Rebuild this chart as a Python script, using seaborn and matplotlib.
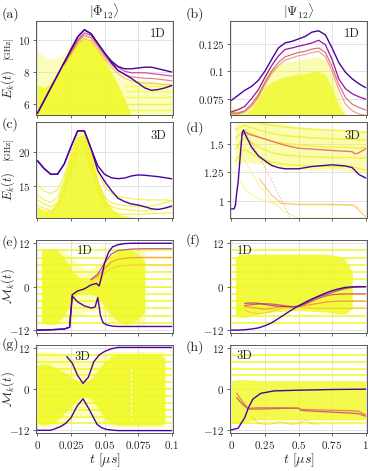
import matplotlib
matplotlib.use("Agg")
import matplotlib.pyplot as plt
import seaborn as sns

# ---------------------------------------------------------------- data
# time grids
T_L = [0, 0.005, 0.01, 0.015, 0.02, 0.025, 0.03, 0.035, 0.04, 0.045, 0.05,
       0.055, 0.06, 0.065, 0.07, 0.075, 0.08, 0.085, 0.09, 0.095, 0.1]
T_R = [0, 0.05, 0.1, 0.15, 0.2, 0.25, 0.3, 0.35, 0.4, 0.45, 0.5,
       0.55, 0.6, 0.65, 0.7, 0.75, 0.8, 0.85, 0.9, 0.95, 1.0]

# (a) |Phi12>, 1D, energies [GHz]
A_PURPLE_1 = [5.4, 6.2, 7.0, 7.8, 8.6, 9.4, 10.2, 10.65, 10.4, 9.8, 9.2,
              8.7, 8.35, 8.2, 8.2, 8.25, 8.3, 8.3, 8.2, 8.1, 8.0]
A_PURPLE_2 = [5.4, 6.2, 7.0, 7.8, 8.6, 9.4, 10.2, 10.65, 10.4, 9.8, 9.2,
              8.6, 8.1, 7.85, 7.6, 7.3, 7.0, 6.85, 6.9, 7.0, 7.15]
A_T_MID = T_L[4:]
A_PINK = [8.6, 9.3, 10.0, 10.45, 10.3, 9.75, 9.15, 8.65, 8.3, 8.05, 7.95,
          7.95, 7.95, 7.9, 7.85, 7.8, 7.75]
A_SALMON = [8.5, 9.2, 9.9, 10.3, 10.15, 9.6, 9.0, 8.5, 8.1, 7.85, 7.7,
            7.65, 7.6, 7.6, 7.55, 7.5, 7.45]
A_PEACH = [8.4, 9.1, 9.75, 10.1, 9.95, 9.4, 8.8, 8.3, 7.9, 7.6, 7.45,
           7.35, 7.3, 7.3, 7.25, 7.2, 7.2]
A_FILL_T = T_L[:15]
A_FILL_HI = [7.2, 7.0, 7.3, 7.9, 8.6, 9.3, 9.9, 10.1, 9.9, 9.4, 8.7, 8.0, 7.2, 6.3, 5.3]
A_FAINT_HI = [9.3, 9.0, 8.8, 8.9, 9.2, 9.7, 10.2, 10.4, 10.2, 9.7, 9.1,
              8.5, 8.0, 7.6, 7.5, 7.5, 7.5, 7.45, 7.4, 7.35, 7.3]
A_LEVELS = [5.6, 6.0, 6.4, 6.8, 7.1]

# (b) |Psi12>, 1D
B_PURPLE = [0.0735, 0.078, 0.0826, 0.0861, 0.0915, 0.100, 0.1107, 0.121, 0.1256, 0.127, 0.1292,
            0.1315, 0.1354, 0.1366, 0.133, 0.121, 0.1078, 0.0989, 0.093, 0.0885, 0.085]
B_MAGENTA = [0.063, 0.065, 0.068, 0.075, 0.083, 0.0944, 0.105, 0.1137, 0.1197, 0.121, 0.1226,
             0.124, 0.1256, 0.128, 0.124, 0.1107, 0.093, 0.084, 0.0795, 0.0767, 0.0745]
B_PINK = [0.062, 0.062, 0.064, 0.07, 0.078, 0.09, 0.1, 0.108, 0.113, 0.115, 0.117,
          0.118, 0.12, 0.121, 0.117, 0.104, 0.088, 0.076, 0.07, 0.067, 0.0648]
B_SALMON = [0.061, 0.061, 0.063, 0.068, 0.076, 0.088, 0.098, 0.105, 0.11, 0.112, 0.114,
            0.115, 0.117, 0.118, 0.113, 0.1, 0.083, 0.07, 0.064, 0.061, 0.06]
B_FAINT_HI = [0.068, 0.066, 0.064, 0.072, 0.085, 0.098, 0.103, 0.106, 0.108, 0.109, 0.11,
              0.111, 0.112, 0.113, 0.11, 0.097, 0.078, 0.062, 0.06, 0.06, 0.06]
B_DENSE_HI = [0.064, 0.062, 0.061, 0.066, 0.075, 0.085, 0.09, 0.093, 0.095, 0.096, 0.097,
              0.098, 0.099, 0.1, 0.097, 0.085, 0.068, 0.06, 0.06, 0.06, 0.06]

# (c) |Phi12>, 3D
C_PURPLE_1 = [18.75, 17.6, 16.75, 16.75, 18.25, 20.75, 23.1, 23.1, 20.5, 18.0, 16.75,
              16.25, 16.1, 16.2, 16.5, 16.65, 16.6, 16.5, 16.4, 16.25, 16.1]
C_PURPLE_2 = [18.75, 17.6, 16.75, 16.75, 18.25, 20.75, 23.1, 23.1, 20.5, 17.3, 15.75,
              14.4, 13.25, 12.75, 12.4, 12.25, 12.0, 11.7, 11.6, 11.8, 12.1]
C_FILL_HI = [12.0, 11.5, 11.5, 13.0, 16.0, 19.5, 22.3, 22.6, 19.8, 16.0, 13.3,
             11.8, 11.0, 10.7, 10.5, 10.4, 10.35, 10.35, 10.35, 10.35, 10.35]
C_Y1 = [15.2, 14.3, 13.9, 14.5, 16.5, 19.8, 22.5, 22.8, 20.0, 17.0, 15.0,
        14.0, 13.5, 13.3, 13.2, 13.1, 13.0, 13.0, 13.0, 13.0, 12.9]
C_Y2 = [13.8, 13.0, 12.6, 13.4, 15.8, 19.2, 22.0, 22.3, 19.5, 15.8, 13.4,
        12.6, 12.3, 12.2, 12.1, 12.0, 12.0, 12.1, 12.3, 12.6, 12.8]
C_Y3 = [13.0, 12.4, 12.0, 12.5, 14.8, 18.0, 21.0, 21.5, 18.5, 15.0, 12.8,
        12.0, 11.7, 11.6, 11.5, 11.4, 11.4, 11.5, 11.6, 11.8, 11.9]
C_Y4 = [12.2, 11.8, 11.4, 11.8, 14.0, 17.0, 20.0, 20.5, 17.6, 14.2, 12.2,
        11.3, 11.0, 10.9, 10.9, 10.9, 10.9, 11.0, 11.0, 11.1, 11.1]

# (d) |Psi12>, 3D
D_T = [0, 0.02, 0.03, 0.04, 0.05, 0.06, 0.07, 0.08, 0.09, 0.1, 0.15, 0.2, 0.25,
       0.3, 0.35, 0.4, 0.5, 0.6, 0.7, 0.75, 0.8, 0.85, 0.9, 0.95, 1.0]
D_PURPLE = [0.93, 0.93, 0.96, 1.07, 1.16, 1.30, 1.45, 1.59, 1.62, 1.59, 1.47, 1.395, 1.35,
            1.31, 1.29, 1.28, 1.28, 1.30, 1.31, 1.315, 1.31, 1.305, 1.29, 1.23, 1.20]
D_PINK_T = [0.08, 0.1, 0.15, 0.25, 0.4, 0.5, 0.75, 0.9, 0.92, 0.95, 1.0]
D_PINK = [1.57, 1.6, 1.575, 1.54, 1.485, 1.46, 1.44, 1.43, 1.41, 1.42, 1.455]
D_FALL_T = [0.1, 0.2, 0.3, 0.44]
D_FALL = [1.62, 1.40, 1.18, 0.85]
D_LOW_T = [0.21, 0.3, 0.37, 0.5, 0.7, 0.91, 1.0]
D_LOW = [1.19, 1.05, 0.98, 0.97, 0.97, 0.965, 0.86]
D_YT = [0.03, 0.06, 0.1, 0.2, 0.3, 0.4, 0.5, 0.6, 0.7, 0.8, 0.9, 0.95, 1.0]
D_BAND_HI = [1.69, 1.69, 1.69, 1.69, 1.69, 1.67, 1.65, 1.64, 1.63, 1.62, 1.61, 1.6, 1.62]
D_BAND_LO = [1.3, 1.32, 1.34, 1.33, 1.30, 1.28, 1.27, 1.27, 1.27, 1.27, 1.26, 1.24, 1.25]
D_Y1 = [1.69, 1.69, 1.69, 1.68, 1.66, 1.645, 1.635, 1.625, 1.62, 1.615, 1.61, 1.6, 1.6]
D_Y2 = [1.62, 1.64, 1.66, 1.62, 1.59, 1.57, 1.56, 1.55, 1.545, 1.54, 1.535, 1.53, 1.53]
D_Y3 = [1.55, 1.58, 1.62, 1.56, 1.52, 1.5, 1.49, 1.48, 1.47, 1.47, 1.465, 1.46, 1.47]
D_Y4 = [1.45, 1.5, 1.55, 1.47, 1.42, 1.4, 1.39, 1.385, 1.38, 1.38, 1.38, 1.37, 1.38]
D_Y5 = [1.35, 1.4, 1.45, 1.38, 1.34, 1.32, 1.31, 1.305, 1.3, 1.3, 1.3, 1.28, 1.27]
D_Y6 = [1.25, 1.2, 1.1, 1.02, 0.98, 0.97, 0.965, 0.96, 0.96, 0.96, 0.96, 0.94, 0.9]
D_Y7 = [1.5, 1.45, 1.35, 1.15, 1.0, 0.9, 0.85, 0.85, 0.85, 0.85, 0.85, 0.85, 0.85]

# (e) M_k, |Phi12>, 1D
LEVELS = [10, 8, 6, 4, 2, 0, -2, -4, -6, -8, -10]
E_P1_T = [0, 0.01, 0.02, 0.024, 0.026, 0.03, 0.035, 0.04, 0.044, 0.046, 0.048,
          0.05, 0.053, 0.056, 0.06, 0.065, 0.07, 0.1]
E_P1 = [-12, -11.9, -11.7, -11.2, -2.2, -1.2, -0.6, 0.5, 0.9, 0.2, 3.0,
        6.5, 9.5, 11.0, 11.6, 11.9, 12.0, 12.0]
E_P2_T = [0, 0.01, 0.02, 0.024, 0.026, 0.03, 0.035, 0.04, 0.043, 0.045, 0.047,
          0.049, 0.052, 0.056, 0.06, 0.07, 0.1]
E_P2 = [-12, -11.9, -11.7, -11.2, -2.6, -4.2, -5.3, -5.9, -5.6, -3.0, -8.0,
        -10.0, -10.6, -10.9, -11.0, -11.0, -11.0]
E_HL_T = [0.04, 0.045, 0.05, 0.055, 0.06, 0.07, 0.08, 0.1]
E_PINK = [2.0, 3.5, 6.5, 9.0, 10.0, 10.4, 10.5, 10.5]
E_ORANGE = [2.0, 3.0, 5.0, 6.8, 7.6, 8.0, 8.1, 8.1]
E_LIGHT = [1.5, 2.5, 3.8, 5.0, 5.6, 6.0, 6.0, 6.0]
E_FILL_T = [0.003, 0.01, 0.015, 0.02, 0.025, 0.03, 0.035, 0.04, 0.045, 0.05,
            0.055, 0.06, 0.065, 0.07, 0.075, 0.08]
E_FILL_HI = [10.0, 10.5, 10.0, 8.0, 5.0, 2.8, 1.8, 2.0, 3.5, 6.0, 8.5, 10.0, 10.5, 10.0, 9.0, 7.0]
E_FILL_LO = [-10.0, -10.5, -10.0, -8.0, -4.5, -2.0, -1.5, -1.8, -3.0, -5.5, -8.0, -9.5, -10.5, -10.0, -9.0, -7.0]
E_FAINT_HI = [10.5, 10.5, 10.5, 10.0, 8.5, 6.5, 5.0, 5.0, 6.0, 8.0, 10.0, 10.5, 10.5, 10.5, 10.5, 10.5]
E_FAINT_LO = [-10.5, -10.5, -10.5, -10.0, -9.5, -8.0, -7.0, -7.0, -6.5, -8.0, -10.0, -10.5, -10.5, -10.5, -10.5, -10.5]

# (f) M_k, |Psi12>, 1D
F_PURPLE = [-12, -12, -11.9, -11.7, -11.4, -10.8, -10.0, -8.8, -7.6, -6.4, -5.3,
            -4.3, -3.4, -2.6, -1.8, -1.1, -0.6, -0.2, -0.05, 0, 0]
F_T_MID = T_R[2:]
F_RED = [-5.2, -5.0, -4.8, -4.7, -4.8, -5.0, -5.3, -5.5, -5.4, -4.8, -4.0,
         -3.2, -2.6, -2.2, -2.1, -2.0, -2.0, -2.0, -2.0]
F_ORANGE = [-5.5, -5.8, -6.0, -6.2, -6.0, -5.6, -5.4, -5.5, -5.5, -5.2, -4.9,
            -4.6, -4.3, -4.1, -4.0, -4.0, -4.0, -4.0, -4.0]
F_PEACH = [-6.5, -7.2, -7.5, -7.3, -6.8, -6.2, -5.8, -5.6, -5.5, -5.8, -6.0,
           -6.0, -6.0, -6.0, -6.0, -6.0, -6.0, -6.0, -6.0]
F_PINK = [-4.6, -4.5, -4.6, -4.9, -5.2, -5.4, -5.5, -5.6, -5.5, -4.6, -3.6,
          -2.8, -2.2, -1.6, -1.0, -0.5, -0.2, -0.05, 0.0]
F_FILL_T = [0.03, 0.06, 0.1, 0.2, 0.3, 0.4, 0.5, 0.6, 0.7, 0.8, 0.85, 0.9]
F_FILL_HI = [8.0, 9.0, 9.0, 9.0, 9.0, 9.0, 9.0, 9.0, 9.0, 8.5, 7.5, 4.0]
F_FILL_LO = [-8.0, -8.5, -8.5, -7.5, -7.0, -6.8, -6.5, -6.8, -7.0, -7.5, -7.5, -6.0]

# (g) M_k, |Phi12>, 3D
G_UP_T = [0.022, 0.026, 0.03, 0.034, 0.038, 0.042, 0.046, 0.05, 0.055, 0.06, 0.07, 0.1]
G_UP = [9.5, 7.6, 4.0, 1.7, 3.5, 8.0, 10.0, 11.0, 11.8, 12.2, 12.2, 12.2]
G_LO_T = [0, 0.01, 0.017, 0.021, 0.025, 0.0295, 0.034, 0.038, 0.0445, 0.048, 0.052, 0.06, 0.1]
G_LO = [-12, -12, -11, -10.0, -8.4, -5.0, -2.8, -5.5, -10.3, -11.3, -11.8, -12.1, -12.1]
G_FILL_T = [0.0, 0.005, 0.01, 0.015, 0.02, 0.025, 0.03, 0.035, 0.04, 0.045, 0.05,
            0.055, 0.06, 0.07, 0.08, 0.09, 0.095]
G_FILL_HI = [7.0, 7.5, 7.0, 6.0, 5.0, 3.5, 2.5, 2.0, 3.0, 5.5, 8.0, 9.5, 10.0, 10.3, 10.3, 10.3, 9.0]
G_FILL_LO = [-10.0, -10.5, -10.0, -9.0, -7.0, -5.0, -3.0, -2.2, -3.0, -5.5, -8.5,
             -10.0, -10.5, -10.5, -10.5, -10.5, -10.0]
G_FAINT_HI = [11, 11, 11, 10.5, 10, 9.5, 8, 7, 8, 9.5, 10.5, 11, 11, 11, 11, 11, 11]
G_FAINT_LO = [-11, -11, -11, -11, -10.5, -9.5, -8, -7.5, -8, -9.5, -10.5, -11, -11, -11, -11, -11, -11]

# (h) M_k, |Psi12>, 3D
H_PURPLE_T = [0, 0.05, 0.1, 0.125, 0.16, 0.22, 0.32, 0.5, 0.75, 1.0]
H_PURPLE = [-11.9, -11.4, -8.3, -5.6, -2.9, -1.2, -0.5, -0.3, -0.1, 0.0]
H_HL_T = [0.04, 0.08, 0.125, 0.2, 0.3, 0.4, 0.5, 0.52, 0.6, 0.7, 0.8, 0.9, 0.95, 1.0]
H_ORANGE = [-1.2, -3.5, -5.6, -5.4, -5.4, -5.4, -5.5, -5.9, -6.0, -6.1, -6.2, -6.3, -6.5, -7.5]
H_PINK = [-2.5, -4.3, -5.8, -5.8, -5.7, -5.6, -5.6, -6.2, -6.4, -6.6, -6.8, -7.0, -7.2, -7.9]
H_ARCH_T = [0.15, 0.2, 0.25, 0.3, 0.35, 0.4, 0.45, 0.5, 0.55, 0.6, 0.65]
H_ARCH = [-8, -10, -10.3, -10.2, -9.5, -9.8, -10.3, -10.1, -9.0, -10.1, -10.3]
H_LEVELS = [10, 8, 6, 4, -10]
H_FILL_T = [0, 0.05, 0.1, 0.2, 0.3, 0.5, 0.7, 0.9, 1.0]
H_FILL_HI = [2.5, 2.8, 2.8, 2.6, 2.5, 2.5, 2.5, 2.5, 2.5]
H_FILL_LO = [-10, -10, -9.5, -9.0, -9.0, -9.0, -9.0, -9.0, -9.0]

# ---------------------------------------------------------------- style
sns.set_style("whitegrid")
plt.rcParams.update({
    "font.family": "serif",
    "font.serif": ["cmr10", "DejaVu Serif"],
    "mathtext.fontset": "cm",
    "axes.unicode_minus": False,
})
CMAP = plt.get_cmap("plasma")
YEL = CMAP(1.0)
PURPLE = 0.12


def curve(ax, t, y, c, lw=0.9, alpha=1.0, ls="-"):
    sns.lineplot(x=t, y=y, ax=ax, color=CMAP(c), lw=lw, alpha=alpha, ls=ls,
                 sort=False, estimator=None)


def fill(ax, t, lo, hi, alpha):
    ax.fill_between(t, lo, hi, color=YEL, alpha=alpha, lw=0)


def frame(ax, left, ylim, yticks, ylabels, bottom):
    if left:
        ax.set_xlim(-0.001, 0.101)
        xt = [0, 0.025, 0.05, 0.075, 0.1]
        xl = ["$0$", "$0.025$", "$0.05$", "$0.075$", "$0.1$"]
    else:
        ax.set_xlim(-0.01, 1.01)
        xt = [0, 0.25, 0.5, 0.75, 1]
        xl = ["$0$", "$0.25$", "$0.5$", "$0.75$", "$1$"]
    ax.set_xticks(xt)
    ax.set_xticklabels(xl if bottom else [])
    ax.set_ylim(*ylim)
    ax.set_yticks(yticks)
    ax.set_yticklabels(ylabels)
    ax.tick_params(bottom=True, left=True, length=2.5, width=0.6, color="0.3",
                   labelsize=8, pad=1.5)
    for s in ax.spines.values():
        s.set_color("0.35")
        s.set_linewidth(0.7)
    ax.grid(color="0.87", lw=0.6)
    ax.set_xlabel("")
    ax.set_ylabel("")


fig = plt.figure(figsize=(3.74, 4.71), dpi=100)
W, H = 374, 471
cols = [36, 230]
rows = [(21, 115), (122, 218), (240, 333), (345, 433)]
axs = {}
for name, (ci, ri) in zip("abcdefgh", [(0, 0), (1, 0), (0, 1), (1, 1),
                                       (0, 2), (1, 2), (0, 3), (1, 3)]):
    top, bot = rows[ri]
    axs[name] = fig.add_axes([cols[ci] / W, 1 - bot / H, 137 / W, (bot - top) / H])

PW = 1.0  # width of the highlighted (purple) curves

# (a)
ax = axs["a"]
fill(ax, T_L, [5.0] * len(T_L), A_FAINT_HI, 0.3)
fill(ax, A_FILL_T, [5.0] * len(A_FILL_T), A_FILL_HI, 0.85)
ax.hlines(A_LEVELS, 0.065, 0.1, color=YEL, lw=1.0, alpha=0.6)
curve(ax, A_T_MID, A_PEACH, 0.78, alpha=0.6)
curve(ax, A_T_MID, A_SALMON, 0.62, alpha=0.8)
curve(ax, A_T_MID, A_PINK, 0.42, alpha=0.8)
curve(ax, T_L, A_PURPLE_2, PURPLE, lw=PW)
curve(ax, T_L, A_PURPLE_1, PURPLE, lw=PW)
frame(ax, True, (5.3, 11.2), [6, 8, 10], ["$6$", "$8$", "$10$"], False)
ax.set_title(r"$|\Phi_{12}\rangle$", fontsize=9.5, pad=0)

# (b)
ax = axs["b"]
fill(ax, T_R, [0.05] * len(T_R), B_FAINT_HI, 0.35)
fill(ax, T_R, [0.05] * len(T_R), B_DENSE_HI, 0.75)
curve(ax, T_R, B_SALMON, 0.68, alpha=0.7)
curve(ax, T_R, B_PINK, 0.52, alpha=0.8)
curve(ax, T_R, B_MAGENTA, 0.32)
curve(ax, T_R, B_PURPLE, PURPLE, lw=PW)
frame(ax, False, (0.0602, 0.1455), [0.075, 0.1, 0.125],
      ["$0.075$", "$0.1$", "$0.125$"], False)
ax.set_title(r"$|\Psi_{12}\rangle$", fontsize=9.5, pad=0)

# (c)
ax = axs["c"]
fill(ax, T_L, [10.0] * len(T_L), C_FILL_HI, 0.85)
for ys in (C_Y1, C_Y2, C_Y3, C_Y4):
    curve(ax, T_L, ys, 0.98, lw=0.9, alpha=0.8)
curve(ax, T_L, C_PURPLE_2, PURPLE, lw=PW)
curve(ax, T_L, C_PURPLE_1, PURPLE, lw=PW)
frame(ax, True, (10.35, 24.4), [15, 20], ["$15$", "$20$"], False)

# (d)
ax = axs["d"]
fill(ax, D_YT, D_BAND_LO, D_BAND_HI, 0.35)
for ys in (D_Y1, D_Y2, D_Y3, D_Y4, D_Y5):
    curve(ax, D_YT, ys, 0.98, lw=1.0, alpha=0.85)
for ys in (D_Y6, D_Y7):
    curve(ax, D_YT, ys, 0.95, lw=0.8, alpha=0.4)
curve(ax, D_FALL_T, D_FALL, 0.65, lw=0.8, alpha=0.6, ls=":")
curve(ax, D_LOW_T, D_LOW, 0.8, lw=0.9, alpha=0.6)
curve(ax, D_PINK_T, D_PINK, 0.6, lw=1.0, alpha=0.85)
curve(ax, D_T, D_PURPLE, PURPLE, lw=PW)
frame(ax, False, (0.85, 1.689), [1, 1.25, 1.5], ["$1$", "$1.25$", "$1.5$"], False)

# (e)
ax = axs["e"]
ax.hlines(LEVELS, 0.0, 0.1, color=YEL, lw=1.2, alpha=0.9)
fill(ax, E_FILL_T, E_FAINT_LO, E_FAINT_HI, 0.3)
fill(ax, E_FILL_T, E_FILL_LO, E_FILL_HI, 0.85)
curve(ax, E_HL_T, E_LIGHT, 0.82, alpha=0.5)
curve(ax, E_HL_T, E_ORANGE, 0.7, alpha=0.7)
curve(ax, E_HL_T, E_PINK, 0.42, alpha=0.8)
curve(ax, E_P2_T, E_P2, 0.16, lw=PW)
curve(ax, E_P1_T, E_P1, PURPLE, lw=PW)
frame(ax, True, (-12.8, 12.9), [-12, 0, 12], ["$-12$", "$0$", "$12$"], False)

# (f)
ax = axs["f"]
ax.hlines(LEVELS, 0.0, 1.0, color=YEL, lw=1.2, alpha=0.9)
fill(ax, F_FILL_T, F_FILL_LO, F_FILL_HI, 0.85)
curve(ax, F_T_MID, F_PEACH, 0.8, alpha=0.5)
curve(ax, F_T_MID, F_ORANGE, 0.7, alpha=0.8)
curve(ax, F_T_MID, F_RED, 0.52, alpha=0.9)
curve(ax, F_T_MID, F_PINK, 0.38, alpha=0.8)
curve(ax, T_R, F_PURPLE, PURPLE, lw=PW)
frame(ax, False, (-12.8, 12.9), [-12, 0, 12], ["$-12$", "$0$", "$12$"], False)

# (g)
ax = axs["g"]
ax.hlines(LEVELS, 0.0, 0.1, color=YEL, lw=1.2, alpha=0.9)
fill(ax, G_FILL_T, G_FAINT_LO, G_FAINT_HI, 0.3)
fill(ax, G_FILL_T, G_FILL_LO, G_FILL_HI, 0.85)
ax.axvline(0.0695, ymin=0.15, ymax=0.75, color="white", lw=0.8, ls=(0, (2, 2)))
curve(ax, G_LO_T, G_LO, PURPLE, lw=PW)
curve(ax, G_UP_T, G_UP, 0.15, lw=PW)
frame(ax, True, (-12.8, 12.9), [-12, 0, 12], ["$-12$", "$0$", "$12$"], True)
ax.set_xlabel(r"$t\ [\mu s]$", fontsize=10, labelpad=1)

# (h)
ax = axs["h"]
ax.hlines(H_LEVELS, 0.0, 1.0, color=YEL, lw=1.2, alpha=0.9)
fill(ax, H_FILL_T, H_FILL_LO, H_FILL_HI, 0.8)
curve(ax, H_ARCH_T, H_ARCH, 0.75, lw=0.8, alpha=0.35)
curve(ax, H_HL_T, H_PINK, 0.45, alpha=0.8)
curve(ax, H_HL_T, H_ORANGE, 0.65, alpha=0.9)
curve(ax, H_PURPLE_T, H_PURPLE, PURPLE, lw=PW)
frame(ax, False, (-12.8, 12.9), [-12, 0, 12], ["$-12$", "$0$", "$12$"], True)
ax.set_xlabel(r"$t\ [\mu s]$", fontsize=10, labelpad=1)

# dimension tags
for name, txt, x, y, ha in [("a", "1D", 0.95, 0.86, "right"), ("b", "1D", 0.95, 0.86, "right"),
                            ("c", "3D", 0.95, 0.86, "right"), ("d", "3D", 0.95, 0.86, "right"),
                            ("e", "1D", 0.36, 0.88, "center"), ("f", "1D", 0.05, 0.88, "left"),
                            ("g", "3D", 0.34, 0.86, "center"), ("h", "3D", 0.05, 0.88, "left")]:
    axs[name].text(x, y, txt, transform=axs[name].transAxes, ha=ha, va="center", fontsize=9)

# y labels
for name in ("a", "c"):
    axs[name].text(-0.2, 0.33, "$E_k(t)$", transform=axs[name].transAxes, rotation=90,
                   ha="center", va="center", fontsize=9)
    axs[name].text(-0.2, 0.72, "[GHz]", transform=axs[name].transAxes, rotation=90,
                   ha="center", va="center", fontsize=6.5)
for name in ("e", "g"):
    axs[name].text(-0.2, 0.5, r"$\mathcal{M}_k(t)$", transform=axs[name].transAxes,
                   rotation=90, ha="center", va="center", fontsize=9)

# panel letters
for txt, x, y in [("(a)", 2, 14), ("(b)", 186, 14), ("(c)", 2, 124), ("(d)", 186, 128),
                  ("(e)", 2, 242), ("(f)", 186, 240), ("(g)", 2, 344), ("(h)", 186, 347)]:
    fig.text(x / W, 1 - y / H, txt, ha="left", va="center", fontsize=10)

fig.savefig("out.png", dpi=100)
